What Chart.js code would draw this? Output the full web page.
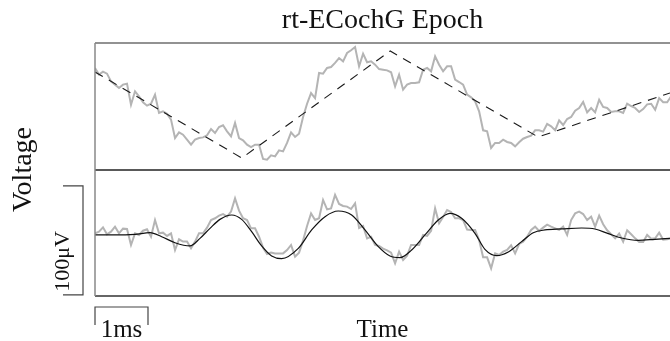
<!DOCTYPE html>
<html>
<head>
<meta charset="utf-8">
<script src="https://cdn.jsdelivr.net/npm/chart.js@4/dist/chart.umd.min.js"></script>
<style>
html,body{margin:0;padding:0;background:#fff;}
#wrap{width:670px;height:341px;position:relative;}
</style>
</head>
<body>
<div id="wrap"><canvas id="c" width="670" height="341"></canvas></div>
<script>
// ---- texts ----
const titleText = 'rt-ECochG Epoch';
const xLabel = 'Time';
const yLabel = 'Voltage';
const voltBarLabel = '100μV';
const timeBarLabel = '1ms';

// ---- scale-bar sizes ----
const voltBarUV = 100;
const timeBarMs = 1;

// ---- axis ranges ----
const timeRangeMs = [0, 10.85];
const topRangeUV = [0, 116.5];
const bottomRangeUV = [-56, 59.6];

// ---- sampled epoch (uniform sampling) ----
const sampleIntervalMs = 0.0755;

// top panel: raw recording (µV)
const topRaw = [
  93.6, 87.5, 90.2, 88.4, 81.3, 78.3, 75.2, 78.3, 79.2, 59.9,
  72.2, 67.6, 62.1, 59.0, 60.8, 69.1, 52.3, 53.8, 51.7, 46.2,
  29.3, 34.5, 32.4, 27.8, 23.2, 27.8, 29.3, 29.9, 31.8, 37.6,
  33.9, 39.4, 41.0, 35.5, 30.9, 43.1, 29.3, 27.2, 23.2, 21.1,
  23.2, 23.2, 10.1, 9.5, 13.4, 12.5, 18.0, 17.1, 24.8,
  34.5, 30.3, 33.3, 48.6, 60.8, 70.6, 66.0, 89.0, 88.4, 93.6,
  94.5, 98.2, 102.7, 99.7, 107.3, 109.8, 112.8, 95.1, 106.7, 98.8,
  99.7, 96.6, 92.6, 92.0, 91.4, 89.6, 76.7, 87.5, 73.7, 78.3,
  79.8, 79.8, 80.4, 92.0, 93.6, 90.5, 104.3, 96.6, 90.5, 95.1,
  95.1, 82.9, 80.7, 78.3, 69.1, 66.7, 63.0, 53.8,
  36.4, 35.5, 20.2, 24.8, 24.8, 27.8, 25.7, 24.8, 21.7, 25.4,
  28.7, 30.3, 31.5, 36.4, 36.4, 35.2, 42.2, 40.0, 36.4, 45.6,
  41.3, 46.8, 48.6, 54.4, 56.9, 62.4, 52.9, 56.9, 52.9, 64.5,
  57.8, 56.9, 53.2, 53.8, 53.8, 52.3, 60.8, 58.7, 56.9, 53.2,
  55.9, 60.2, 60.8, 55.3, 66.0, 62.1, 62.1, 67.6
];

// top panel: piecewise-linear trend (dashed)
const trendTimeMs = [0, 2.77, 5.57, 8.36, 10.85];
const trendUV = [89.9, 11.0, 109.2, 30.3, 70.6];

// bottom panel: raw recording (µV)
const bottomRaw = [
  1.5, 3.0, 7.0, 0.6, 3.0, 7.6, 1.5, 5.8, 5.5, -9.2,
  1.5, 0.0, 3.9, 5.2, -1.6, 13.7, 1.5, 2.1, -0.9, 1.5,
  -13.8, -4.0, -6.1, -6.1, -12.3, -6.1, 1.5, 1.5, 6.7, 13.7,
  15.3, 17.7, 19.2, 16.8, 21.4, 33.6, 22.3, 15.3, 13.7, 6.1,
  6.1, -1.6, -11.7, -17.5, -16.2, -16.9, -16.9, -16.9, -13.8,
  -9.2, -19.9, -16.2, -5.2, 8.2, 19.8, 13.7, 15.3, 32.1, 23.5,
  24.4, 36.7, 28.4, 26.6, 26.0, 23.8, 29.0, 6.4, 8.2, -3.1,
  -1.6, -9.2, -10.1, -12.6, -14.1, -16.2, -26.0, -15.3, -23.0, -19.0,
  -9.2, -9.2, -9.2, 0.0, -0.9, 3.9, 24.4, 10.7, 16.5, 22.9,
  21.1, 15.3, 15.3, 13.7, 4.9, 4.6, 4.6, -4.6,
  -20.5, -20.5, -30.6, -16.9, -18.4, -15.3, -13.8, -9.5, -16.9, -8.3,
  -6.1, -1.6, 4.6, 7.6, 3.6, 6.7, 9.4, 7.6, 6.1, 4.6,
  7.6, 0.0, 13.7, 19.8, 21.4, 19.2, 13.7, 16.8, 7.6, 17.7,
  9.8, 4.3, 0.6, -3.1, 1.2, -6.1, 4.3, 0.6, -3.1, -6.5,
  -6.5, 0.0, -3.4, -3.1, 2.1, -4.3, -4.0, -3.1
];

// bottom panel: fitted response (solid black)
const fitTimeMs = [
  0, 0.377, 0.755, 1.038, 1.258, 1.509, 1.792, 1.981, 2.170, 2.358,
  2.579, 2.767, 2.956, 3.145, 3.333, 3.522, 3.836, 4.088, 4.340, 4.591,
  4.843, 5.094, 5.346, 5.566, 5.755, 5.975, 6.226, 6.478, 6.698, 6.918,
  7.170, 7.358, 7.579, 7.799, 8.050, 8.270, 8.491, 8.805, 9.182, 9.434,
  9.686, 9.937, 10.252, 10.566, 10.849
];
const fitUV = [
  0.0, 0.0, 0.6, 2.1, -1.6, -7.1, -10.1, -3.1, 6.1, 14.3,
  18.3, 14.3, 3.0, -10.1, -19.3, -21.7, -12.3, 4.6, 16.8, 22.0,
  18.3, 4.6, -10.7, -19.3, -20.8, -13.8, 0.0, 13.7, 19.8, 15.3,
  1.5, -13.2, -19.0, -15.6, -6.1, 2.1, 4.6, 5.5, 6.4, 5.5,
  1.2, -2.8, -4.9, -4.0, -3.1
];

// ---- build ----
const sampleTimes = topRaw.map((_, i) => +(i * sampleIntervalMs).toFixed(4));
const toPoints = (ts, vs) => vs.map((v, i) => ({ x: ts[i], y: v }));

const FONT = "'Liberation Serif', 'DejaVu Serif', serif";
const INK = '#111';
const RAW = '#b4b4b4';

const decor = {
  id: 'decor',
  afterDatasetsDraw(chart) {
    const { ctx, chartArea: a, scales } = chart;
    const x = scales.x, yT = scales.yTop, yB = scales.yBot;
    ctx.save();
    const seg = (pts, color, w) => {
      ctx.beginPath();
      ctx.strokeStyle = color; ctx.lineWidth = w;
      ctx.moveTo(pts[0][0], pts[0][1]);
      for (let i = 1; i < pts.length; i++) ctx.lineTo(pts[i][0], pts[i][1]);
      ctx.stroke();
    };
    // panel frames
    seg([[a.left, yT.top], [a.right, yT.top]], '#6e6e6e', 1.5);
    seg([[a.left, yB.top], [a.right, yB.top]], '#222', 1.5);
    seg([[a.left, yB.bottom], [a.right, yB.bottom]], '#333', 1.5);
    seg([[a.left, a.top], [a.left, a.bottom]], '#888', 1.5);

    // voltage scale bar
    const bx = a.left - 12;
    const vb0 = yB.getPixelForValue(bottomRangeUV[0] + 1);
    const vb1 = yB.getPixelForValue(bottomRangeUV[0] + 1 + voltBarUV);
    seg([[bx - 20, vb1], [bx, vb1], [bx, vb0], [bx - 20, vb0]], '#444', 1.2);

    // time scale bar
    const tx0 = x.getPixelForValue(0), tx1 = x.getPixelForValue(timeBarMs);
    const ty = a.bottom + 11;
    seg([[tx0, ty + 18], [tx0, ty], [tx1, ty], [tx1, ty + 18]], '#444', 1.2);

    // texts
    ctx.fillStyle = INK;
    ctx.textAlign = 'center';
    ctx.textBaseline = 'alphabetic';
    ctx.font = '28px ' + FONT;
    ctx.fillText(titleText, (a.left + a.right) / 2, 28);
    ctx.font = '25px ' + FONT;
    ctx.fillText(xLabel, (a.left + a.right) / 2, 337);
    ctx.fillText(timeBarLabel, (tx0 + tx1) / 2, 337);

    ctx.save();
    ctx.translate(31, (a.top + a.bottom) / 2);
    ctx.rotate(-Math.PI / 2);
    ctx.font = '28px ' + FONT;
    ctx.fillText(yLabel, 0, 0);
    ctx.restore();

    ctx.save();
    ctx.translate(69, (vb0 + vb1) / 2 + 21);
    ctx.rotate(-Math.PI / 2);
    ctx.font = '22px ' + FONT;
    ctx.fillText(voltBarLabel, 0, 0);
    ctx.restore();

    ctx.restore();
  }
};

const axisHidden = {
  grid: { display: false, drawTicks: false, tickLength: 0 },
  ticks: { display: false },
  border: { display: false }
};

new Chart(document.getElementById('c'), {
  type: 'line',
  data: {
    datasets: [
      { label: 'trend', data: toPoints(trendTimeMs, trendUV), yAxisID: 'yTop',
        borderColor: '#1a1a1a', borderWidth: 1.1, borderDash: [9, 7], order: 1 },
      { label: 'raw top', data: toPoints(sampleTimes, topRaw), yAxisID: 'yTop',
        borderColor: RAW, borderWidth: 2, order: 2 },
      { label: 'fit', data: toPoints(fitTimeMs, fitUV), yAxisID: 'yBot',
        borderColor: INK, borderWidth: 1.2, cubicInterpolationMode: 'monotone', order: 1 },
      { label: 'raw bottom', data: toPoints(sampleTimes, bottomRaw), yAxisID: 'yBot',
        borderColor: RAW, borderWidth: 2, order: 2 }
    ]
  },
  options: {
    responsive: false,
    animation: false,
    devicePixelRatio: 1,
    layout: { padding: { left: 95, right: 0, top: 43, bottom: 45 } },
    elements: { point: { radius: 0 }, line: { tension: 0, fill: false } },
    plugins: { legend: { display: false }, tooltip: { enabled: false }, title: { display: false } },
    scales: {
      x: { type: 'linear', min: timeRangeMs[0], max: timeRangeMs[1], display: false },
      yBot: Object.assign({ type: 'linear', position: 'left', stack: 'panels', stackWeight: 126,
        min: bottomRangeUV[0], max: bottomRangeUV[1] }, axisHidden),
      yTop: Object.assign({ type: 'linear', position: 'left', stack: 'panels', stackWeight: 127,
        min: topRangeUV[0], max: topRangeUV[1] }, axisHidden)
    }
  },
  plugins: [decor]
});
</script>
</body>
</html>
